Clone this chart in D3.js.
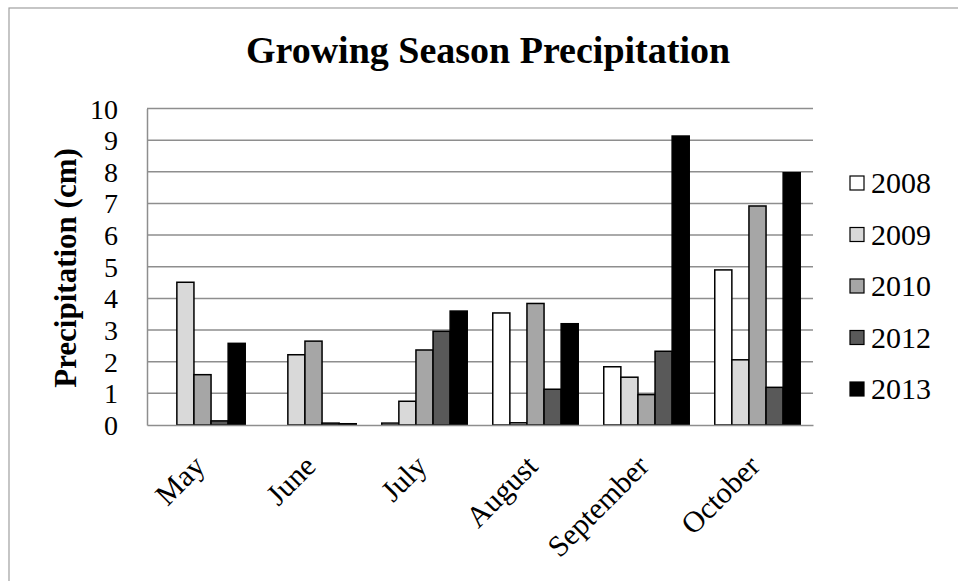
<!DOCTYPE html>
<html>
<head>
<meta charset="utf-8">
<script src="https://cdn.jsdelivr.net/npm/d3@7"></script>
<style>
  body { margin: 0; background: #fff; }
  svg { display: block; }
  svg text { font-family: 'Liberation Serif', 'Times New Roman', serif !important; fill: #000; }
</style>
</head>
<body>
<svg id="chart" width="958" height="581"></svg>
<script>
const months = ["May", "June", "July", "August", "September", "October"];
const years = ["2008", "2009", "2010", "2012", "2013"];
const v2008 = [0, 0, 0.06, 3.54, 1.84, 4.90];
const v2009 = [4.51, 2.22, 0.75, 0.07, 1.51, 2.06];
const v2010 = [1.59, 2.65, 2.37, 3.84, 0.96, 6.92];
const v2012 = [0.13, 0.06, 2.96, 1.13, 2.33, 1.19];
const v2013 = [2.58, 0.04, 3.60, 3.20, 9.13, 7.97];
const yTicks = [0, 1, 2, 3, 4, 5, 6, 7, 8, 9, 10];
const colors = ["#ffffff", "#d9d9d9", "#a6a6a6", "#595959", "#000000"];

const seriesValues = [v2008, v2009, v2010, v2012, v2013];
const svg = d3.select("#chart");
const SERIF = "'Liberation Serif', 'Times New Roman', serif";

const plot = { left: 147, right: 813, top: 108.5, bottom: 425 };

// frame
svg.append("rect").attr("x", 9).attr("y", 8).attr("width", 980).attr("height", 600)
  .attr("fill", "none").attr("stroke", "#a0a0a0").attr("stroke-width", 1.2);

const x0 = d3.scaleBand().domain(months).range([plot.left, plot.right]).paddingInner(0.23).paddingOuter(0.115);
const x1 = d3.scaleBand().domain(years).range([0, x0.bandwidth()]);
const y = d3.scaleLinear().domain([0, 10]).range([plot.bottom, plot.top]);

// gridlines
svg.append("g").selectAll("line").data(yTicks.filter(d => d > 0)).join("line")
  .attr("x1", plot.left).attr("x2", plot.right)
  .attr("y1", d => y(d)).attr("y2", d => y(d))
  .attr("stroke", "#8e8e8e").attr("stroke-width", 1.5);

// y axis
const yAxis = svg.append("g").attr("transform", `translate(${plot.left},0)`)
  .call(d3.axisLeft(y).tickValues(yTicks).tickSize(0).tickPadding(29));
yAxis.attr("font-family", null).attr("font-size", null);
yAxis.select(".domain").attr("stroke", "#8e8e8e").attr("stroke-width", 1.5);
yAxis.selectAll("text").style("font-family", SERIF).style("font-size", "28px").attr("fill", "#000")
  .attr("dy", "0.34em");

// bars
const groups = svg.append("g").selectAll("g").data(months).join("g")
  .attr("transform", d => `translate(${x0(d)},0)`);
groups.selectAll("rect").data((m, i) => years.map((yr, j) => ({ yr, j, v: seriesValues[j][i] })))
  .join("rect")
  .attr("x", d => x1(d.yr))
  .attr("width", x1.bandwidth())
  .attr("y", d => y(d.v))
  .attr("height", d => y(0) - y(d.v))
  .attr("fill", d => colors[d.j])
  .attr("stroke", d => d.v > 0 ? "#000" : "none")
  .attr("stroke-width", 1.5);

// x axis baseline
const xAxis = svg.append("g").attr("transform", `translate(0,${plot.bottom})`)
  .call(d3.axisBottom(x0).tickSize(0).tickPadding(0));
xAxis.attr("font-family", null).attr("font-size", null);
xAxis.select(".domain").attr("stroke", "#8e8e8e").attr("stroke-width", 1.5);
xAxis.selectAll("text")
  .style("font-family", SERIF).style("font-size", "30px").attr("fill", "#000")
  .attr("text-anchor", "end")
  .attr("dy", "0")
  .attr("transform", "translate(4,43) rotate(-45)");

// title
svg.append("text").attr("x", 488).attr("y", 63).attr("text-anchor", "middle")
  .style("font-family", SERIF).style("font-size", "38px").style("font-weight", "bold")
  .text("Growing Season Precipitation");

// y title
svg.append("text").attr("transform", "translate(76,268) rotate(-90)").attr("text-anchor", "middle")
  .style("font-family", SERIF).style("font-size", "31px").style("font-weight", "bold")
  .text("Precipitation (cm)");

// legend
const legend = svg.append("g").selectAll("g").data(years).join("g")
  .attr("transform", (d, i) => `translate(850,${193 + i * 51.5})`);
legend.append("rect").attr("x", 0).attr("y", -17).attr("width", 14).attr("height", 14)
  .attr("fill", (d, i) => colors[i]).attr("stroke", "#000").attr("stroke-width", 1.2);
legend.append("text").attr("x", 21).attr("y", 0)
  .style("font-family", SERIF).style("font-size", "30px").text(d => d);
</script>
</body>
</html>
